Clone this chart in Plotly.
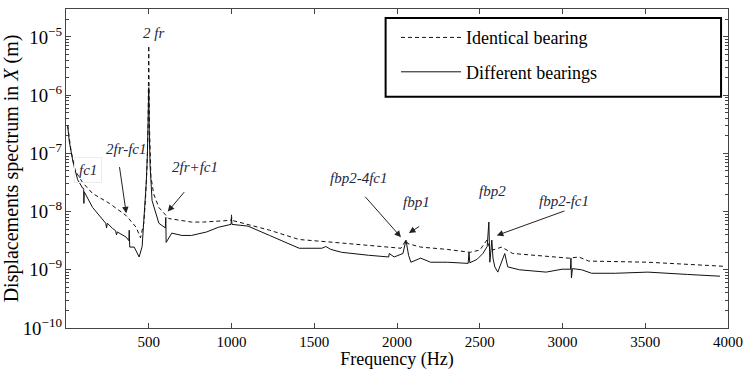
import numpy as np
import plotly.graph_objects as go

# ---- data (log10 of displacement in m) ----
freq_identical = [10, 30, 54, 100, 161, 263, 364, 424, 450, 470, 480, 490, 496, 500, 504, 510, 513, 530,
                  561, 621, 758, 830, 961, 998, 1000, 1002, 1230, 1409, 1624, 1827, 1983, 2024, 2054, 2065,
                  2143, 2304, 2442, 2501, 2543, 2560, 2579, 2633, 2699, 2980, 3039, 3099, 3158, 3516,
                  3815, 3976]
log_identical = [-6.52, -6.95, -7.29, -7.50, -7.69, -7.86, -8.07, -8.27, -8.45, -8.20, -7.80, -7.20, -6.50,
                 -5.15, -6.50, -7.10, -7.40, -7.70, -7.93, -8.12, -8.18, -8.18, -8.15, -8.15, -8.05, -8.15,
                 -8.32, -8.48, -8.53, -8.58, -8.63, -8.63, -8.49, -8.55, -8.61, -8.65, -8.70, -8.66, -8.49,
                 -8.62, -8.66, -8.61, -8.72, -8.78, -8.80, -8.78, -8.85, -8.87, -8.92, -8.94]

freq_different = [10, 20, 42, 70, 101, 106, 107, 108, 110, 161, 221, 240, 245, 250, 281, 300, 305, 310,
                  364, 380, 382, 385, 412, 442, 460, 475, 485, 492, 497, 500, 503, 508, 520, 543, 561,
                  600, 603, 605, 639, 700, 758, 850, 920, 997, 1000, 1003, 1100, 1230, 1409, 1546, 1570,
                  1600, 1666, 1827, 1950, 1953, 1983, 2036, 2054, 2070, 2084, 2143, 2203, 2304, 2430,
                  2435, 2440, 2484, 2519, 2545, 2555, 2561, 2573, 2580, 2591, 2609, 2640, 2651, 2669,
                  2740, 2901, 2997, 3048, 3051, 3054, 3060, 3116, 3176, 3319, 3516, 3755, 3952]
log_different = [-6.52, -6.80, -7.14, -7.45, -7.60, -7.60, -7.62, -7.86, -7.66, -7.93, -8.15, -8.20, -8.28,
                 -8.20, -8.29, -8.33, -8.40, -8.35, -8.44, -8.50, -8.32, -8.61, -8.61, -8.78, -8.60, -8.00,
                 -7.50, -7.00, -6.50, -5.87, -6.60, -7.20, -7.81, -8.03, -8.20, -8.28, -8.10, -8.53, -8.37,
                 -8.41, -8.41, -8.35, -8.27, -8.22, -8.12, -8.22, -8.25, -8.41, -8.63, -8.63, -8.60, -8.65,
                 -8.70, -8.75, -8.78, -8.72, -8.78, -8.72, -8.49, -8.75, -8.87, -8.80, -8.87, -8.87, -8.89,
                 -8.70, -8.88, -8.82, -8.72, -8.60, -8.18, -8.87, -8.49, -8.80, -8.95, -9.04, -8.80, -8.72,
                 -8.95, -9.00, -9.04, -8.99, -8.99, -8.80, -9.14, -8.98, -9.00, -9.06, -9.06, -9.04, -9.08,
                 -9.11]

x_ticks = [500, 1000, 1500, 2000, 2500, 3000, 3500, 4000]

# annotations: (text, freq, log10 value)
labels = [("2 fr", 531, -4.93), ("2fr-fc1", 364, -6.92), ("2fr+fc1", 782, -7.24), ("fc1", 131, -7.28),
          ("fbp2-4fc1", 1773, -7.43), ("fbp1", 2119, -7.84), ("fbp2", 2579, -7.64), ("fbp2-fc1", 3009, -7.81)]
# arrows: tail (freq, log) -> tip (freq, log)
arrows = [((322, -7.21), (364, -8.03)), ((722, -7.64), (615, -8.00)), ((1800, -7.72), (2024, -8.44)),
          ((2143, -8.24), (2072, -8.37)), ((3021, -7.98), (2603, -8.41))]

FONT = "Times New Roman, Liberation Serif, serif"
TXT = "#1f2640"

fig = go.Figure()
fig.add_trace(go.Scatter(x=freq_identical, y=10 ** np.array(log_identical), mode="lines",
                         name="Identical bearing", legendgroup="a",
                         line=dict(color="#111111", width=1, dash="4px,3px")))
fig.add_trace(go.Scatter(x=freq_different, y=10 ** np.array(log_different), mode="lines",
                         name="Different bearings", legendgroup="b",
                         line=dict(color="#111111", width=1)))

ann = []
for t, fx, ly in labels:
    a = dict(x=fx, y=ly, xref="x", yref="y", text="<i>%s</i>" % t, showarrow=False,
             font=dict(family=FONT, size=15, color=TXT))
    if t == "fc1":
        a.update(bordercolor="#ececec", borderwidth=1, borderpad=4)
    ann.append(a)
for (tx, ty), (hx, hy) in arrows:
    ann.append(dict(x=hx, y=hy, xref="x", yref="y", ax=tx, ay=ty, axref="x", ayref="y", text="",
                    showarrow=True, arrowhead=2, arrowsize=1.3, arrowwidth=1, arrowcolor="#222222"))

fig.update_layout(
    width=743, height=370,
    margin=dict(l=61, r=15, t=9, b=42),
    paper_bgcolor="white", plot_bgcolor="white",
    font=dict(family=FONT, color="black"),
    annotations=ann,
    shapes=[dict(type="rect", xref="paper", yref="paper", x0=0.4828, x1=0.9895, y0=0.725, y1=0.972,
                 line=dict(color="black", width=2), fillcolor="white", layer="above")],
    showlegend=True,
    legend=dict(x=0.4985, y=0.968, xanchor="left", yanchor="top", borderwidth=0,
                bgcolor="rgba(0,0,0,0)", font=dict(family=FONT, size=18), itemwidth=60, tracegroupgap=8,
                traceorder="grouped"),
)
fig.update_xaxes(range=[0, 4000], tickvals=x_ticks, ticks="inside", ticklen=5, showline=True,
                 linecolor="#444444", linewidth=1, mirror="ticks", showgrid=False, zeroline=False,
                 tickfont=dict(family=FONT, size=15), ticklabeloverflow="allow", automargin=False,
                 title=dict(text="Frequency (Hz)", font=dict(family=FONT, size=18), standoff=9))
fig.update_yaxes(type="log", range=[-10, -4.52], dtick=1, exponentformat="power", showexponent="all",
                 ticks="inside", ticklen=5, showline=True, linecolor="#444444", linewidth=1, mirror="ticks",
                 showgrid=False, zeroline=False, tickfont=dict(family=FONT, size=15),
                 minor=dict(ticks="inside", ticklen=3, dtick="D1", showgrid=False),
                 title=dict(text="Displacements spectrum in <i>X</i> (m)", font=dict(family=FONT, size=20),
                            standoff=0))
fig.write_html("out.html")
